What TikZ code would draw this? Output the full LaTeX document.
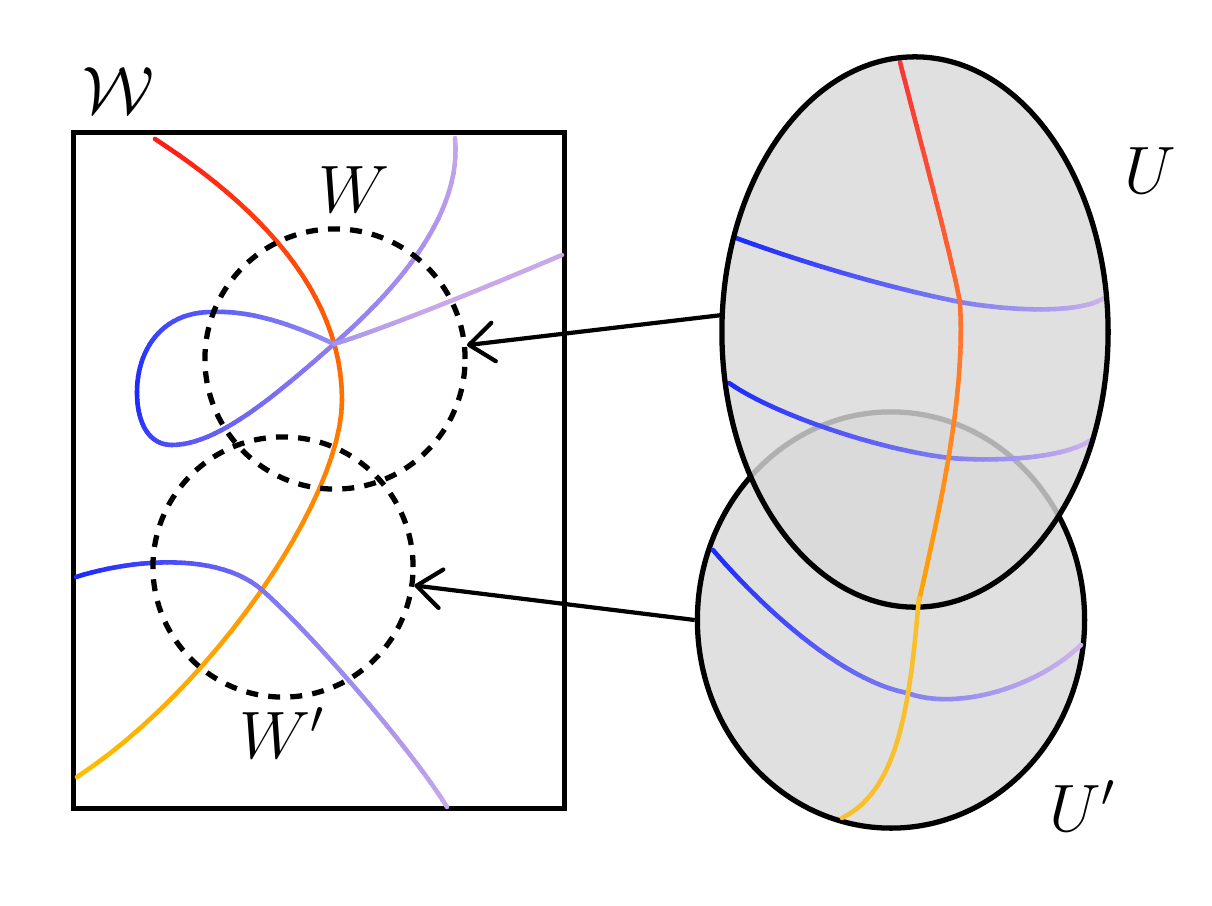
\documentclass[tikz,border=0pt]{standalone}
\usetikzlibrary{shapes.geometric,arrows.meta}

\definecolor{lavA}{RGB}{200,168,232}
\definecolor{blueA}{RGB}{25,40,255}
\definecolor{redA}{RGB}{255,25,25}
\definecolor{orgA}{RGB}{255,105,0}
\definecolor{ambA}{RGB}{255,190,0}
\definecolor{midA}{RGB}{115,110,242}
\definecolor{loopE}{RGB}{150,140,240}
\definecolor{brS}{RGB}{160,148,238}
\definecolor{redU}{RGB}{248,53,53}
\definecolor{orgU}{RGB}{255,122,48}
\definecolor{ambU}{RGB}{255,165,0}
\definecolor{lavU}{RGB}{205,180,235}
\definecolor{midU}{RGB}{128,126,240}
\definecolor{yelU}{RGB}{249,192,45}
\definecolor{efill}{RGB}{224,224,224}
\definecolor{ufill}{RGB}{217,217,217}

\tikzset{
  frame/.style={draw, line width=1.5pt, inner sep=0pt},
  dcirc/.style={circle, draw, line width=1.5pt, dash pattern=on 3.4pt off 2.9pt, minimum size=2.6cm, inner sep=0pt},
  arr/.style={line width=1.2pt, -{Straight Barb[length=7pt,width=11pt,round]}},
  lbl/.style={inner sep=0pt, anchor=base, scale=0.92, font=\fontsize{20.74}{25}\selectfont},
  gline/.style={line width=1.3pt, line cap=round},
}

% chain of cubic Bezier segments with a 3-colour gradient
% #1 number of segments, #2 xs, #3 ys (3*#1+1 values: P0,C,C,P1,C,C,P2,...),
% #4 colA, #5 colB, #6 colC, #7 position of colB
\newcommand\gradbez[7]{%
 \pgfmathtruncatemacro\gm{#1-1}%
 \foreach \i in {0,...,\gm}{%
   \pgfmathtruncatemacro\ja{3*\i}\pgfmathtruncatemacro\jb{3*\i+1}%
   \pgfmathtruncatemacro\jc{3*\i+2}\pgfmathtruncatemacro\jd{3*\i+3}%
   \pgfmathsetmacro\xb{{#2}[\ja]}\pgfmathsetmacro\ux{{#2}[\jb]}%
   \pgfmathsetmacro\vx{{#2}[\jc]}\pgfmathsetmacro\xc{{#2}[\jd]}%
   \pgfmathsetmacro\yb{{#3}[\ja]}\pgfmathsetmacro\uy{{#3}[\jb]}%
   \pgfmathsetmacro\vy{{#3}[\jc]}\pgfmathsetmacro\yc{{#3}[\jd]}%
   \foreach \k in {1,...,24}{%
     \pgfmathsetmacro\ta{(\k-1)/24}\pgfmathsetmacro\tb{\k/24}%
     \pgfmathsetmacro\pxa{(1-\ta)^3*\xb+3*(1-\ta)^2*\ta*\ux+3*(1-\ta)*\ta^2*\vx+\ta^3*\xc}%
     \pgfmathsetmacro\pya{(1-\ta)^3*\yb+3*(1-\ta)^2*\ta*\uy+3*(1-\ta)*\ta^2*\vy+\ta^3*\yc}%
     \pgfmathsetmacro\pxb{(1-\tb)^3*\xb+3*(1-\tb)^2*\tb*\ux+3*(1-\tb)*\tb^2*\vx+\tb^3*\xc}%
     \pgfmathsetmacro\pyb{(1-\tb)^3*\yb+3*(1-\tb)^2*\tb*\uy+3*(1-\tb)*\tb^2*\vy+\tb^3*\yc}%
     \pgfmathsetmacro\gf{(\i+(\k-0.5)/24)/#1}%
     \pgfmathtruncatemacro\ga{100*min(1,\gf/#7)}%
     \pgfmathtruncatemacro\gb{100-100*max(0,(\gf-#7)/(1-#7))}%
     \colorlet{gcol}{#5!\ga!#4!\gb!#6}%
     \draw[gline, gcol] (\pxa,\pya) -- (\pxb,\pyb);
   }%
 }%
}

\begin{document}
\begin{tikzpicture}[x=0.01cm, y=-0.01cm]
\useasboundingbox (0,0) rectangle (1212,906);

% ---------- left box ----------
\node[frame, minimum width=4.9cm, minimum height=6.75cm] (box) at (319,470.5) {};

% red -> orange -> amber arc
\gradbez{2}{155,255,342,342,342,210,77}{139,204,290,400,500,690,777}{redA}{orgA}{ambA}{0.45}

% lower blue curve
\gradbez{2}{76,136,220,262,312,412,447}{577,558,553,590,634,750,807}{blueA}{midA}{lavA}{0.45}

% loop curve
\gradbez{5}{455,462,404,334,274,217,172,150,137,137,137,160,212,255,300,334}{138,210,283,344,397,445,445,445,425,392,352,312,312,310,328,344}{lavA}{blueA}{loopE}{0.6}
\gradbez{1}{334,375,480,562}{344,332,290,255}{brS}{lavA}{lavA}{0.5}

\node[dcirc] (Wc) at (335,359) {};
\node[dcirc] (Wpc) at (283,567) {};

% ---------- right ellipses ----------
\node[ellipse, draw, line width=1.5pt, fill=efill, minimum width=3.87cm, minimum height=4.16cm, inner sep=0pt] (Up) at (891,620) {};

\gradbez{2}{713,760,840,907,960,1040,1081}{550,605,680,693,712,685,645}{blueA}{midU}{lavU}{0.5}

\node[ellipse, fill=ufill, fill opacity=0.81, minimum width=3.86cm, minimum height=5.5cm, inner sep=0pt] (U) at (915,332) {};

\gradbez{2}{736,810,890,960,1010,1080,1104}{238,265,288,302,311,314,298}{blueA}{midU}{lavU}{0.5}
\gradbez{2}{729,775,880,950,1000,1065,1091}{383,415,450,458,462,458,440}{blueA}{midU}{lavU}{0.5}
\gradbez{2}{900,920,950,960,966,938,918}{62,140,250,302,400,515,606}{redU}{orgU}{ambU}{0.6}

\draw[line width=1.5pt] (U.center) ellipse [x radius=1.93cm, y radius=2.75cm];

\gradbez{1}{919,910,900,842}{598,700,790,818}{yelU}{yelU}{yelU}{0.5}

% ---------- arrows ----------
\draw[arr] (U.175) -- (Wc.6);
\draw[arr] (Up.180) -- (Wpc.352);

% ---------- labels ----------
\node[lbl] (calW) at (118,113) {$\mathcal{W}$};
\node[lbl] (Wl) at (354,212) {$W$};
\node[lbl] (Wpl) at (282,758) {$W'$};
\node[lbl] (Ul) at (1150,193) {$U$};
\node[lbl] (Upl) at (1083,831) {$U'$};
\end{tikzpicture}
\end{document}
